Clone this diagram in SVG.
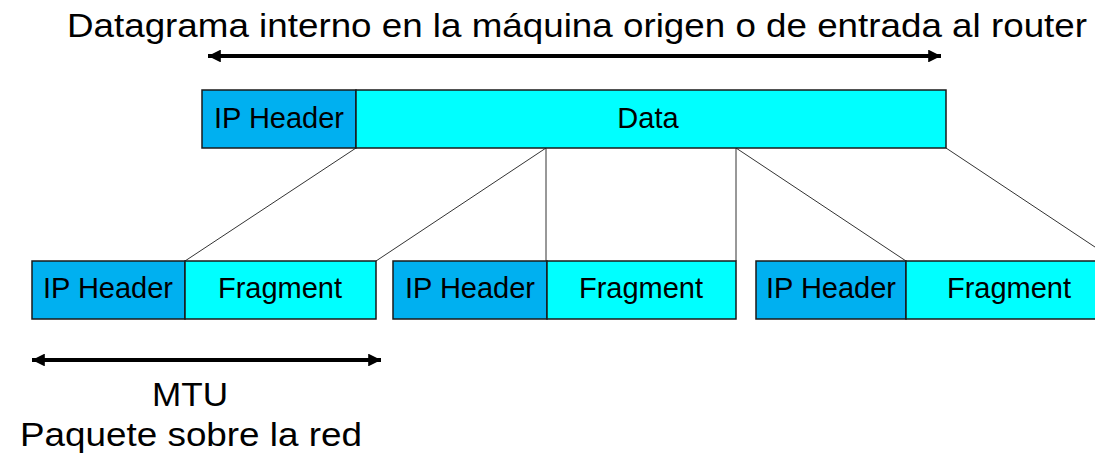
<svg xmlns="http://www.w3.org/2000/svg" width="1095" height="457" viewBox="0 0 1095 457">
<defs>
<style>
.hdr{fill:#00B0F0;stroke:#1a1a1a;stroke-width:1.5}
.dat{fill:#00FFFF;stroke:#1a1a1a;stroke-width:1.5}
.bt{font-family:"Liberation Sans",Arial,sans-serif;font-size:29px;fill:#000;text-anchor:middle}
.lbl{font-family:"Liberation Sans",Arial,sans-serif;font-size:33px;fill:#000}
.conn{stroke:#333;stroke-width:1;fill:none}
.dim{stroke:#000;stroke-width:4;fill:none}
</style>
<marker id="ah" viewBox="0 0 10 10" refX="10" refY="5" markerWidth="4" markerHeight="3.2" orient="auto-start-reverse" markerUnits="strokeWidth">
<path d="M0,0 L10,5 L0,10 z" fill="#000"/>
</marker>
</defs>
<rect width="1095" height="457" fill="#fff"/>
<g id="connectors">
<line class="conn" x1="356" y1="148" x2="185" y2="261"/>
<line class="conn" x1="546" y1="148" x2="376" y2="261"/>
<line class="conn" x1="546" y1="148" x2="546" y2="261"/>
<line class="conn" x1="736" y1="148" x2="736" y2="261"/>
<line class="conn" x1="736" y1="148" x2="906" y2="261"/>
<line class="conn" x1="946" y1="148" x2="1116" y2="261"/>
</g>
<g id="title">
<text class="lbl" x="67" y="37" textLength="1020" lengthAdjust="spacingAndGlyphs">Datagrama interno en la máquina origen o de entrada al router</text>
</g>
<g id="datagram-arrow">
<line class="dim" x1="208" y1="56" x2="941" y2="56" marker-start="url(#ah)" marker-end="url(#ah)"/>
</g>
<g id="datagram">
<rect class="hdr" x="202" y="90" width="154" height="58"/>
<text class="bt" x="279" y="128">IP Header</text>
<rect class="dat" x="356" y="90" width="590" height="58"/>
<text class="bt" x="648" y="128">Data</text>
</g>
<g id="fragment1">
<rect class="hdr" x="32" y="261" width="153" height="58"/>
<text class="bt" x="108" y="298">IP Header</text>
<rect class="dat" x="185" y="261" width="191" height="58"/>
<text class="bt" x="280" y="298">Fragment</text>
</g>
<g id="fragment2">
<rect class="hdr" x="393" y="261" width="154" height="58"/>
<text class="bt" x="470" y="298">IP Header</text>
<rect class="dat" x="547" y="261" width="189" height="58"/>
<text class="bt" x="641" y="298">Fragment</text>
</g>
<g id="fragment3">
<rect class="hdr" x="756" y="261" width="150" height="58"/>
<text class="bt" x="831" y="298">IP Header</text>
<rect class="dat" x="906" y="261" width="212" height="58"/>
<text class="bt" x="1009" y="298">Fragment</text>
</g>
<g id="mtu-arrow">
<line class="dim" x1="32" y1="360" x2="381" y2="360" marker-start="url(#ah)" marker-end="url(#ah)"/>
</g>
<g id="mtu-label">
<text class="lbl" x="190" y="406" text-anchor="middle" textLength="76" lengthAdjust="spacingAndGlyphs">MTU</text>
<text class="lbl" x="20" y="446" textLength="342" lengthAdjust="spacingAndGlyphs">Paquete sobre la red</text>
</g>
</svg>
